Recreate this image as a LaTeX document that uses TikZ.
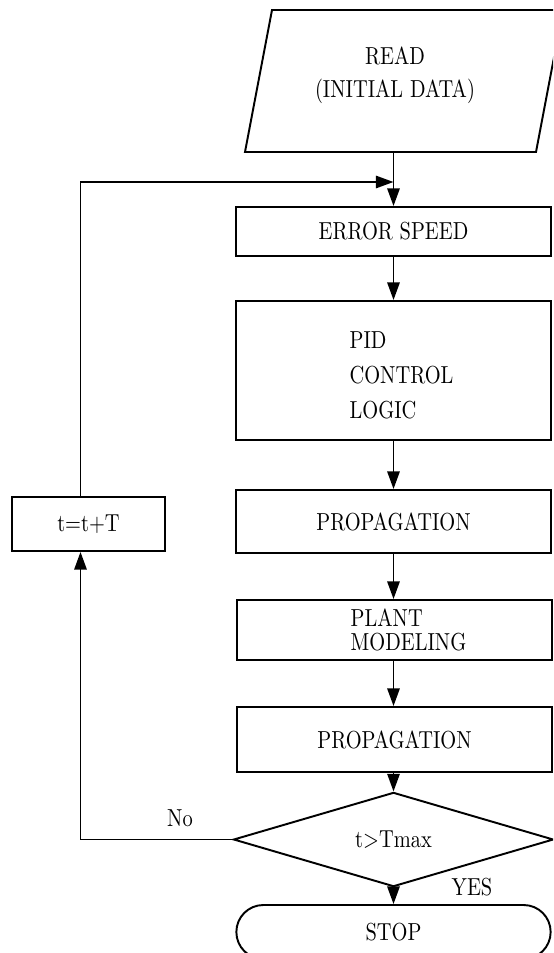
\documentclass[tikz,border=0pt]{standalone}
\usepackage{fontspec}
\setmainfont{lmroman10-regular.otf}[FakeStretch=0.83]
\usetikzlibrary{arrows.meta,shapes.geometric,shapes.misc,positioning}
\tikzset{
	linie/.style={line width=1.1pt},
	pfeil/.style={line width=1.1pt, -{Triangle[length=10pt,width=7pt]}},
	box/.style={draw, line width=1.1pt, minimum width=6.3cm, inner sep=2pt, font=\fontsize{14}{20}\selectfont},
	schrift/.style={font=\fontsize{14}{17}\selectfont},
}
\begin{document}
\begin{tikzpicture}
	\useasboundingbox (0,0) rectangle (11.06,-19.06);
	\clip (0,0) rectangle (11.06,-19.06);
	% Eingabe (Parallelogramm)
	\draw [linie] (4.9,-3.04) -- (10.72,-3.04) -- (11.26,-0.2) -- (5.44,-0.2) -- cycle;
	\node (read) [align=center, font=\fontsize{14}{19}\selectfont] at (7.9,-1.5) {READ\\(INITIAL DATA)};
	\coordinate (rd) at (7.87,-3.04);
	\coordinate (join) at (7.87,-3.64);
	% Hauptkette
	\node (err) [box, minimum height=0.98cm] at (7.87,-4.63) {ERROR SPEED};
	\node (pid) [box, minimum height=2.78cm] at (7.87,-7.41) {};
	\node (pidtxt) [align=left, font=\fontsize{14}{20}\selectfont] at ([xshift=0.16cm,yshift=-0.1cm]pid.center) {PID\\CONTROL\\LOGIC};
	\node (prop1) [box, minimum height=1.26cm] at (7.87,-10.43) {PROPAGATION};
	\node (plant) [box, minimum height=1.2cm] at (7.89,-12.6) {};
	\node (planttxt) [align=left, font=\fontsize{14}{14}\selectfont] at ([xshift=0.28cm]plant.center) {PLANT\\MODELING};
	\node (prop2) [box, minimum height=1.3cm] at (7.89,-14.79) {PROPAGATION};
	% Abfrage
	\node (dia) [diamond, draw, linie, schrift, minimum width=6.4cm, minimum height=1.7cm, inner sep=0pt] at (7.87,-16.79) {t>Tmax};
	\node (stop) [rounded rectangle, draw, linie, schrift, minimum width=6.52cm, minimum height=1.08cm] at (7.87,-18.64) {STOP};
	% Zeitschritt
	\node (tbox) [draw, linie, schrift, minimum width=3.06cm, minimum height=1.08cm] at (1.77,-10.48) {t=t+T};
	% Pfeile
	\draw [pfeil] (rd) -- (err.north);
	\draw [pfeil] (err.south) -- (pid.north);
	\draw [pfeil] (pid.south) -- (prop1.north);
	\draw [pfeil] (prop1.south) -- (prop1.south |- plant.north);
	\draw [pfeil] (prop1.south |- plant.south) -- (prop1.south |- prop2.north);
	\draw [pfeil] (prop1.south |- prop2.south) -- (dia.north);
	\draw [pfeil] (dia.south) -- (stop.north);
	% Rueckfuehrung
	\draw [pfeil] (dia.west) -| ([xshift=-0.16cm]tbox.south);
	\draw [pfeil] ([xshift=-0.16cm]tbox.north) |- (join);
	% Beschriftung
	\node (no) [schrift] at (3.6,-16.36) {No};
	\node (yes) [schrift] at (9.44,-17.74) {YES};
\end{tikzpicture}
\end{document}
